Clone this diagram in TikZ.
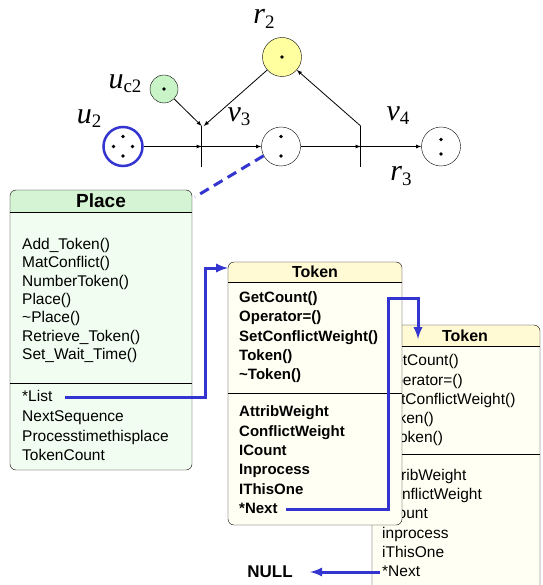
\documentclass[tikz,border=0pt]{standalone}
\usepackage{fontspec}
\usepackage{xcolor}
\usepackage{tikz}
\setmainfont{Liberation Sans}
\newfontfamily\netfont{Liberation Serif}
\definecolor{placebody}{RGB}{240,253,240}
\definecolor{placehead}{RGB}{212,244,212}
\definecolor{tokenbody}{RGB}{255,255,243}
\definecolor{tokenhead}{RGB}{255,249,212}
\definecolor{linkblue}{RGB}{52,52,208}
\definecolor{resyellow}{RGB}{255,255,160}
\definecolor{ctrlgreen}{RGB}{200,244,200}
\newcommand{\netsub}[1]{\raisebox{-0.3ex}{\upshape\fontsize{19}{19}\selectfont #1}}

\begin{document}
\begin{tikzpicture}[x=1pt,y=-1pt,>=latex,
  netplace/.style={circle,draw,minimum size=39pt,inner sep=0pt},
  tok/.style={circle,fill,inner sep=0pt,minimum size=3.6pt},
  netlabel/.style={inner sep=0pt,font=\netfont\itshape\fontsize{30}{30}\selectfont},
  arc/.style={->,line width=0.8pt},
  bar/.style={line width=1.5pt},
  member/.style={anchor=west,inner sep=0pt,text height=11pt,text depth=3pt,font=\fontsize{15.5}{15.5}\selectfont},
  bmember/.style={member,font=\fontsize{15}{15}\selectfont\bfseries},
  link/.style={line width=3pt,linkblue}]
\clip (0,0) rectangle (542,585);
%\draw[help lines] (0,0) grid[step=50] (542,585);
%==================== Rete di Petri ==================
\node[netplace,line width=2.5pt,draw=linkblue] (u2) at (123,146.5) {};
\node[tok] (u2a) at (123,136.5) {};
\node[tok] (u2b) at (113.5,146.5) {};
\node[tok] (u2c) at (132.5,146.5) {};
\node[tok] (u2d) at (123,156) {};
\node[netplace,minimum size=28pt,fill=ctrlgreen] (uc2) at (164,89) {};
\node[tok] (uc2a) at (164,89) {};
\node[netplace] (p) at (281,146.5) {};
\node[tok] (pa) at (281,136.5) {};
\node[tok] (pb) at (281,156) {};
\node[netplace,fill=resyellow] (r2) at (282,57) {};
\node[tok] (r2a) at (282,57) {};
\node[netplace] (r3) at (441,146.5) {};
\node[tok] (r3a) at (441,139.5) {};
\node[tok] (r3b) at (441,154) {};
%==================== Transizioni ==================
\coordinate (v3t) at (201.7,126);
\coordinate (v3) at (201.7,146.5);
\coordinate (v3b) at (201.7,167);
\coordinate (v4t) at (360.7,126);
\coordinate (v4) at (360.7,146.5);
\coordinate (v4b) at (360.7,167);
\draw[bar] (v3t) -- (v3b);
\draw[bar] (v4t) -- (v4b);
%==================== Archi ==================
\draw[arc] (u2) -- (v3);
\draw[arc] (v3) -- (p);
\draw[arc] (p) -- (v4);
\draw[arc] (v4) -- (r3);
\draw[arc] (uc2) -- (v3t);
\draw[arc] (r2) -- ([xshift=2pt]v3t);
\draw[arc] (v4t) -- (r2);
%==================== Etichette ==================
\node[netlabel] (lu2) at (89,119) {u\netsub{2}};
\node[netlabel] (luc2) at (125,84) {u\netsub{c2}};
\node[netlabel] (lv3) at (239,117) {v\netsub{3}};
\node[netlabel] (lv4) at (398,116) {v\netsub{4}};
\node[netlabel] (lr3) at (401,176) {r\netsub{3}};
\node[netlabel] (lr2) at (264,19) {r\netsub{2}};
%==================== Classe Token (seconda) ==================
\begin{scope}
\clip[rounded corners=6pt] (372,325) rectangle (540,610);
\fill[tokenbody] (372,325) rectangle (540,610);
\fill[tokenhead] (372,325) rectangle (540,346);
\end{scope}
\draw[rounded corners=6pt] (372,325) rectangle (540,610);
\draw (372,346) -- (540,346);
\draw (372,454) -- (540,454);
\node[font=\bfseries\fontsize{16}{16}\selectfont] (toktwo) at (465,336) {Token};
\node[member] (gettwo) at (382,361) {GetCount()};
\node[member] (optwo) at (382,381) {Operator=()};
\node[member] (settwo) at (382,400) {SetConflictWeight()};
\node[member] (ctortwo) at (382,419) {Token()};
\node[member] (dtortwo) at (382,438) {\textasciitilde Token()};
\node[member] (attrtwo) at (382,476) {AttribWeight};
\node[member] (conftwo) at (382,495) {ConflictWeight};
\node[member] (counttwo) at (382,514) {ICount};
\node[member] (proctwo) at (382,534) {inprocess};
\node[member] (thistwo) at (382,553) {iThisOne};
\node[member] (nexttwo) at (382,572) {*Next};
%==================== Classe Token (prima) ==================
\begin{scope}
\clip[rounded corners=6pt] (228,262) rectangle (402,525);
\fill[tokenbody] (228,262) rectangle (402,525);
\fill[tokenhead] (228,262) rectangle (402,282);
\end{scope}
\draw[rounded corners=6pt] (228,262) rectangle (402,525);
\draw (228,282) -- (402,282);
\draw[line width=1pt] (228,393) -- (402,393);
\node[font=\bfseries\fontsize{16}{16}\selectfont] (tokone) at (315,272) {Token};
\node[bmember] (getone) at (239,298) {GetCount()};
\node[bmember] (opone) at (239,317) {Operator=()};
\node[bmember] (setone) at (239,337) {SetConflictWeight()};
\node[bmember] (ctorone) at (239,356) {Token()};
\node[bmember] (dtorone) at (239,375) {\textasciitilde Token()};
\node[bmember] (attrone) at (239,412) {AttribWeight};
\node[bmember] (confone) at (239,432) {ConflictWeight};
\node[bmember] (countone) at (239,451) {ICount};
\node[bmember] (procone) at (239,470) {Inprocess};
\node[bmember] (thisone) at (239,490) {IThisOne};
\node[bmember] (nextone) at (239,509) {*Next};
%==================== Classe Place ==================
\begin{scope}
\clip[rounded corners=6pt] (10,190) rectangle (192,470);
\fill[placebody] (10,190) rectangle (192,470);
\fill[placehead] (10,190) rectangle (192,212);
\end{scope}
\draw[rounded corners=6pt] (10,190) rectangle (192,470);
\draw (10,212) -- (192,212);
\draw (10,383) -- (192,383);
\coordinate (plcorner) at (195,197);
\node[font=\bfseries\fontsize{19}{19}\selectfont] (place) at (101,201) {Place};
\node[member] (addtok) at (22,245) {Add\_Token()};
\node[member] (matconf) at (22,263) {MatConflict()};
\node[member] (numtok) at (22,282) {NumberToken()};
\node[member] (ctor) at (22,300) {Place()};
\node[member] (dtor) at (22,318) {\textasciitilde Place()};
\node[member] (retr) at (22,337) {Retrieve\_Token()};
\node[member] (wait) at (22,355) {Set\_Wait\_Time()};
\node[member] (list) at (22,397) {*List};
\node[member] (nextseq) at (22,417) {NextSequence};
\node[member] (proctime) at (22,437) {Processtimethisplace};
\node[member] (tokcount) at (22,456) {TokenCount};
%==================== Collegamenti ==================
\coordinate (tokoneIn) at (228,268);
\coordinate (nextUp) at (388,298);
\coordinate (toktwoIn) at (418,339);
\draw[link,dash pattern=on 10pt off 6pt] (p.-152) -- (plcorner);
\draw[link,->] ([xshift=12pt]list.east) -| ([xshift=-23pt]tokoneIn) -- (tokoneIn);
\draw[link,->] ([xshift=8pt]nextone.east) -| (nextUp) -| (toktwoIn);
\node[font=\bfseries\fontsize{17}{17}\selectfont] (null) at (270,572) {NULL};
\draw[link,->] ([xshift=-2pt]nexttwo.west) -- ([xshift=14pt]null.east);
\end{tikzpicture}
\end{document}
